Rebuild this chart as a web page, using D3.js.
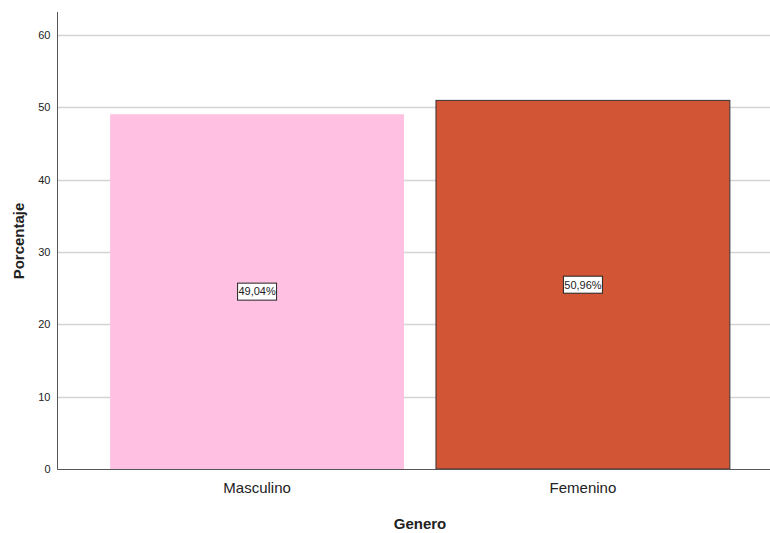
<!DOCTYPE html>
<html>
<head>
<meta charset="utf-8">
<script src="https://cdn.jsdelivr.net/npm/d3@7"></script>
<style>
  body { margin: 0; background: #fff; }
  svg text { font-family: "Liberation Sans Narrow", "Liberation Sans", Arial, sans-serif; fill: #222; }
</style>
</head>
<body>
<div id="chart"></div>
<script>
// data
var categories = ["Masculino", "Femenino"];
var percents = [49.04, 50.96];
var labels = ["49,04%", "50,96%"];
var yTicks = [0, 10, 20, 30, 40, 50, 60];

var svgWidth = 770, svgHeight = 533;

var svg = d3.select("#chart").append("svg")
    .attr("width", svgWidth)
    .attr("height", svgHeight);

// scales
var yScale = d3.scaleLinear()
    .domain([0, 60])
    .range([469, 35]);

var xScale = d3.scaleBand()
    .domain(categories)
    .range([58, 782])
    .paddingInner(0.098)
    .paddingOuter(0.16);

// gridlines
svg.append("g")
    .selectAll("line")
    .data(yTicks.filter(d => d > 0))
    .enter()
    .append("line")
    .attr("x1", 58)
    .attr("x2", 770)
    .attr("y1", d => Math.round(yScale(d)) + 0.5)
    .attr("y2", d => Math.round(yScale(d)) + 0.5)
    .attr("stroke", "#d4d4d4")
    .attr("stroke-width", 1.3);

// bars
var colors = ["#ffc0e1", "#d25535"];
var strokes = ["none", "#333"];
svg.append("g")
    .selectAll("rect")
    .data(percents)
    .enter()
    .append("rect")
    .attr("x", (d, i) => xScale(categories[i]))
    .attr("y", d => yScale(d))
    .attr("width", xScale.bandwidth())
    .attr("height", d => yScale(0) - yScale(d))
    .attr("fill", (d, i) => colors[i])
    .attr("stroke", (d, i) => strokes[i])
    .attr("stroke-width", 1);

// y axis
var yAxis = d3.axisLeft(yScale).tickValues(yTicks).tickSize(0).tickPadding(7);
var yG = svg.append("g")
    .attr("transform", "translate(57.5,0)")
    .call(yAxis);
yG.select(".domain").remove();
yG.selectAll("text").attr("font-size", 11).style("fill", "#222");
svg.append("line")
    .attr("x1", 57.5).attr("x2", 57.5)
    .attr("y1", 12).attr("y2", 469.5)
    .attr("stroke", "#555").attr("stroke-width", 1);

// x axis
var xAxis = d3.axisBottom(xScale).tickSize(0).tickPadding(13);
var xG = svg.append("g")
    .attr("transform", "translate(0,469.5)")
    .call(xAxis);
xG.select(".domain").remove();
xG.selectAll("text").attr("font-size", 15).style("fill", "#222");
svg.append("line")
    .attr("x1", 57.5).attr("x2", 770)
    .attr("y1", 469.5).attr("y2", 469.5)
    .attr("stroke", "#555").attr("stroke-width", 1);

// value labels in boxes at mid-height
var lab = svg.append("g")
    .selectAll("g")
    .data(percents)
    .enter()
    .append("g")
    .attr("transform", (d, i) => `translate(${xScale(categories[i]) + xScale.bandwidth() / 2}, ${yScale(d / 2)})`);

lab.append("rect")
    .attr("x", -19.5)
    .attr("y", -8.5)
    .attr("width", 39)
    .attr("height", 17)
    .attr("fill", "#fff")
    .attr("stroke", "#222")
    .attr("stroke-width", 1);

lab.append("text")
    .attr("text-anchor", "middle")
    .attr("dy", "0.35em")
    .attr("font-size", 11)
    .text((d, i) => labels[i]);

// axis titles
svg.append("text")
    .attr("transform", "translate(24,241) rotate(-90)")
    .attr("text-anchor", "middle")
    .attr("font-size", 15)
    .attr("font-weight", "bold")
    .attr("font-family", "Liberation Sans, Arial, sans-serif")
    .text("Porcentaje");

svg.append("text")
    .attr("x", 420)
    .attr("y", 529)
    .attr("text-anchor", "middle")
    .attr("font-size", 15)
    .attr("font-weight", "bold")
    .attr("font-family", "Liberation Sans, Arial, sans-serif")
    .text("Genero");
</script>
</body>
</html>
